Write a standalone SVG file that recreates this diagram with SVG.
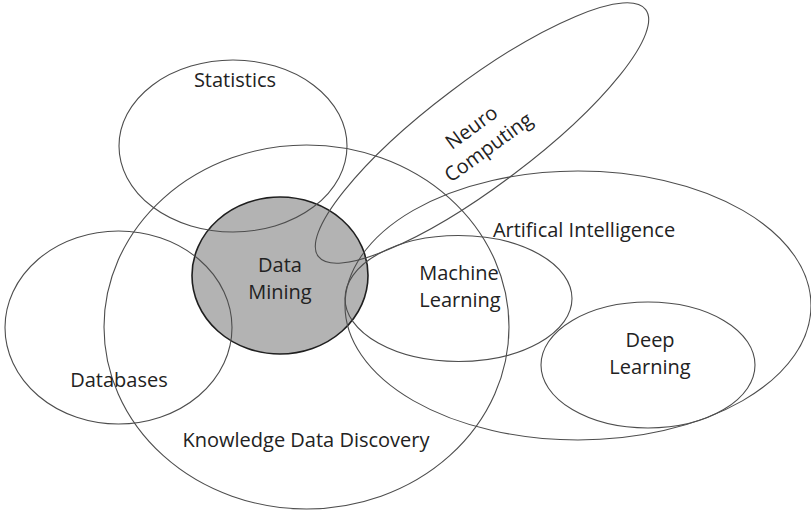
<svg xmlns="http://www.w3.org/2000/svg" width="811" height="511" viewBox="0 0 811 511">
  <style>
    .set { fill: none; stroke: #4d4d4d; stroke-width: 1.1; }
    .core { fill: #b3b3b3; stroke: #1f1f1f; stroke-width: 1.6; }
    .lbl { font-family: "Open Sans", "Noto Sans", sans-serif; font-size: 20px; fill: #222; text-anchor: middle; }
  </style>
  <rect width="811" height="511" fill="#fff"/>

  <!-- shaded core set, drawn first so the other outlines cross over it -->
  <g id="data-mining-shape">
    <ellipse class="core" cx="280" cy="275.5" rx="88" ry="78.5"/>
  </g>

  <g id="connectors"/>

  <g id="statistics">
    <ellipse class="set" cx="233" cy="146" rx="114" ry="86"/>
    <text class="lbl" x="235" y="87">Statistics</text>
  </g>

  <g id="knowledge-data-discovery">
    <ellipse class="set" cx="306.5" cy="327" rx="202.5" ry="182"/>
    <text class="lbl" x="306" y="447">Knowledge Data Discovery</text>
  </g>

  <g id="databases">
    <ellipse class="set" cx="118.5" cy="327.5" rx="113.5" ry="96.5"/>
    <text class="lbl" x="119" y="387">Databases</text>
  </g>

  <g id="neuro-computing">
    <ellipse class="set" cx="482" cy="133" rx="205" ry="52" transform="rotate(-37 482 133)"/>
    <text class="lbl" transform="translate(475.5 133) rotate(-36)"><tspan x="0" y="0">Neuro</tspan><tspan x="2" y="26">Computing</tspan></text>
  </g>

  <g id="artificial-intelligence">
    <ellipse class="set" cx="578" cy="305.5" rx="233" ry="134.5"/>
    <text class="lbl" x="584" y="237">Artifical Intelligence</text>
  </g>

  <g id="machine-learning">
    <ellipse class="set" cx="458.5" cy="298.5" rx="113.5" ry="63"/>
    <text class="lbl" x="459" y="280">Machine</text>
    <text class="lbl" x="460" y="307">Learning</text>
  </g>

  <g id="deep-learning">
    <ellipse class="set" cx="648" cy="365" rx="107" ry="63"/>
    <text class="lbl" x="650" y="347">Deep</text>
    <text class="lbl" x="650" y="374">Learning</text>
  </g>

  <g id="data-mining">
    <text class="lbl" x="280" y="272">Data</text>
    <text class="lbl" x="280" y="299">Mining</text>
  </g>
</svg>
